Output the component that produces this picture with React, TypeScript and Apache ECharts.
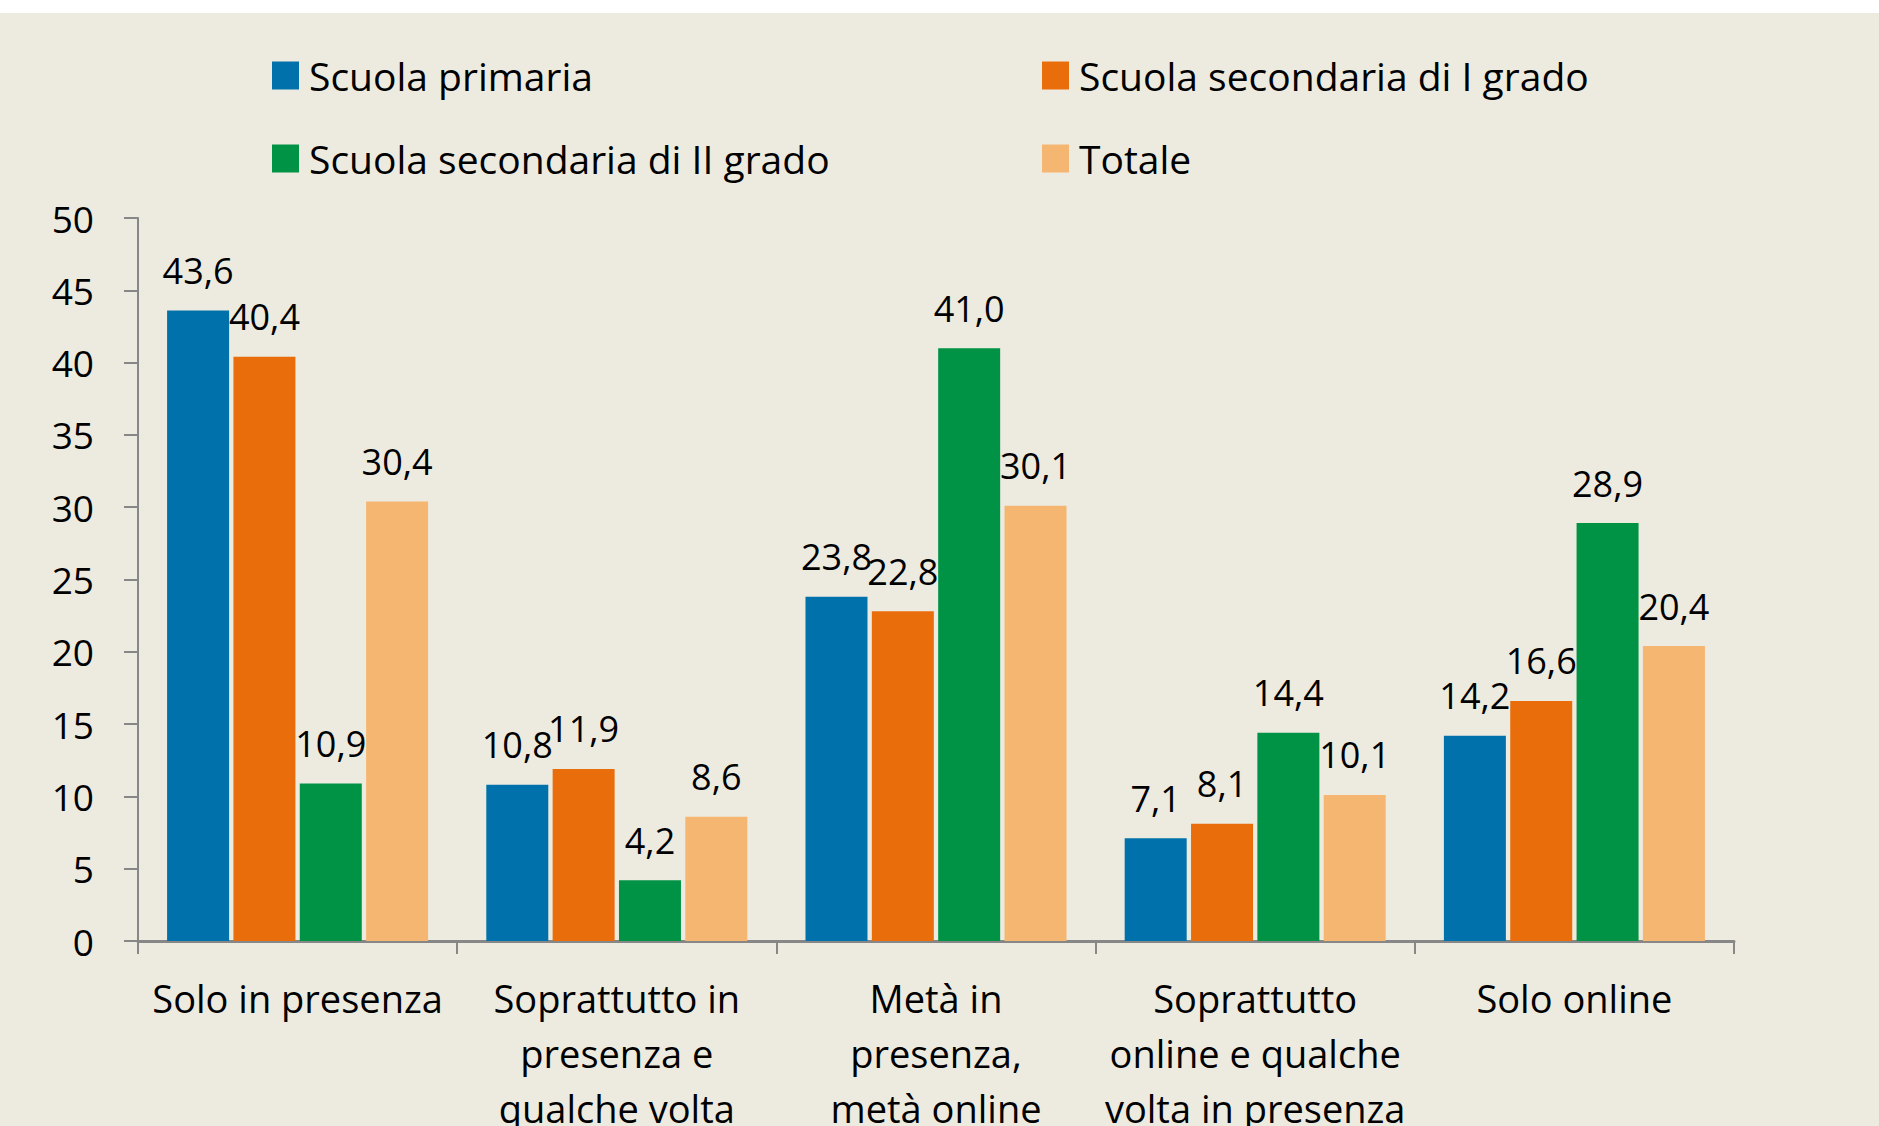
import React, { useEffect, useRef } from "react";
import * as echarts from "echarts";

const categories = [
  "Solo in presenza",
  "Soprattutto in\npresenza e\nqualche volta",
  "Metà in\npresenza,\nmetà online",
  "Soprattutto\nonline e qualche\nvolta in presenza",
  "Solo online",
];
const seriesNames = [
  "Scuola primaria",
  "Scuola secondaria di I grado",
  "Scuola secondaria di II grado",
  "Totale",
];
const primaria = [43.6, 10.8, 23.8, 7.1, 14.2];
const secondariaI = [40.4, 11.9, 22.8, 8.1, 16.6];
const secondariaII = [10.9, 4.2, 41.0, 14.4, 28.9];
const totale = [30.4, 8.6, 30.1, 10.1, 20.4];
const colors = ["#0071AA", "#EA6D0B", "#009346", "#F5B671"];
const yTicks = { min: 0, max: 50, interval: 5 };

const FONT = "'Open Sans', 'Noto Sans', sans-serif";

export default function App() {
  const ref = useRef<HTMLDivElement>(null);
  useEffect(() => {
    if (!ref.current) return;
    const chart = echarts.init(ref.current, undefined, { renderer: "svg" });
    const values = [primaria, secondariaI, secondariaII, totale];
    const legendPos = [
      { left: 267, top: 38 },
      { left: 1037, top: 38 },
      { left: 267, top: 121 },
      { left: 1037, top: 121 },
    ];
    chart.setOption({
      animation: false,
      backgroundColor: "#EDEBE0",
      legend: seriesNames.map((n, i) => ({
        data: [n],
        left: legendPos[i].left,
        top: legendPos[i].top,
        itemWidth: 27,
        itemHeight: 28,
        icon: "rect",
        selectedMode: false,
        textStyle: {
          fontSize: 39,
          fontFamily: FONT,
          color: "#000",
          padding: [0, 0, 0, 5],
        },
      })),
      grid: {
        left: 138,
        right: 145,
        top: 205,
        bottom: 185,
        containLabel: false,
        outerBoundsMode: "none",
      },
      xAxis: {
        type: "category",
        data: categories,
        axisLine: { lineStyle: { color: "#878787", width: 3 } },
        axisTick: { show: true, length: 13, lineStyle: { color: "#878787", width: 2 } },
        axisLabel: {
          interval: 0,
          margin: 29,
          fontSize: 38,
          lineHeight: 55,
          fontFamily: FONT,
          color: "#000",
          align: "center",
        },
      },
      yAxis: {
        type: "value",
        min: yTicks.min,
        max: yTicks.max,
        interval: yTicks.interval,
        splitLine: { show: false },
        axisLine: { show: true, lineStyle: { color: "#878787", width: 2 } },
        axisTick: { show: true, length: 14, lineStyle: { color: "#878787", width: 2 } },
        axisLabel: {
          margin: 44,
          fontSize: 37,
          fontFamily: FONT,
          color: "#000",
        },
      },
      series: seriesNames.map((n, i) => ({
        name: n,
        type: "bar",
        data: values[i],
        barWidth: 62,
        barGap: "7%",
        itemStyle: { color: colors[i] },
        label: {
          show: true,
          position: "top",
          distance: 22,
          fontSize: 36,
          fontFamily: FONT,
          color: "#000",
          formatter: (p: any) => Number(p.value).toFixed(1).replace(".", ","),
        },
      })),
    });
    return () => chart.dispose();
  }, []);
  return (
    <div
      style={{
        position: "fixed",
        left: 0,
        top: 0,
        width: 1879,
        height: 1126,
        background: "#ffffff",
        overflow: "hidden",
      }}
    >
      <div
        ref={ref}
        style={{ position: "absolute", left: 0, top: 13, width: 1879, height: 1113 }}
      />
    </div>
  );
}
